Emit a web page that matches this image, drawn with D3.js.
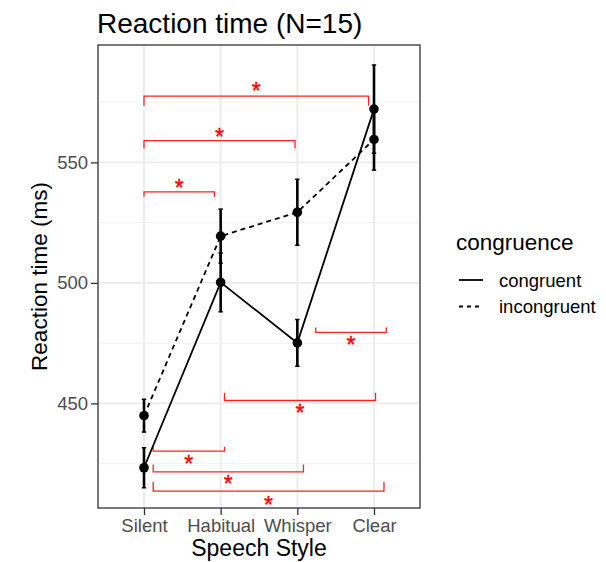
<!DOCTYPE html>
<html><head><meta charset="utf-8">
<script src="https://cdn.jsdelivr.net/npm/d3@7"></script>
<style>body{margin:0;background:#fff}svg{display:block}text{font-family:"Liberation Sans",Arial,sans-serif}</style>
</head><body>
<svg id="c" width="606" height="562"></svg>
<script>
const categories = ["Silent","Habitual","Whisper","Clear"];
const congruentMean = [423.3, 500.2, 475.1, 572.1];
const congruentErr  = [8.3, 12.2, 9.7, 18.3];
const incongruentMean = [444.9, 519.4, 529.3, 559.5];
const incongruentErr  = [6.8, 11.2, 13.7, 12.7];
const yTicks = [450, 500, 550];
const yMinor = [425, 475, 525, 575];
// significance brackets (x in category index units, y in ms)
const bracketX1 = [0, 0, 0, 2.24, 1.05, 0.12, 0.12, 0.12];
const bracketX2 = [2.93, 1.97, 0.92, 3.16, 3.02, 1.05, 2.08, 3.13];
const bracketY  = [577.5, 559.0, 537.8, 479.5, 451.2, 430.2, 421.6, 413.6];
const bracketTip= [573.5, 555.8, 535.7, 481.5, 454.4, 432.0, 424.7, 417.5];
const starY     = [581.4, 562.3, 541.3, 476.3, 447.9, 426.9, 418.5, 409.9];

const svg = d3.select("#c");
const L = 98, R = 420, T = 45, B = 508;
const x = d3.scalePoint().domain(categories).range([L, R]).padding(0.6);
const xi = i => x(categories[0]) + i * x.step();
const y = d3.scaleLinear().domain([406.6, 598.7]).range([B, T]);

// gridlines
const g = svg.append("g");
g.selectAll(".mn").data(yMinor).join("line").attr("x1", L).attr("x2", R)
  .attr("y1", d => y(d)).attr("y2", d => y(d)).attr("stroke", "#f0f0f0").attr("stroke-width", 1);
g.selectAll(".mj").data(yTicks).join("line").attr("x1", L).attr("x2", R)
  .attr("y1", d => y(d)).attr("y2", d => y(d)).attr("stroke", "#ebebeb").attr("stroke-width", 1.8);
g.selectAll(".vx").data(categories).join("line").attr("x1", d => x(d)).attr("x2", d => x(d))
  .attr("y1", T).attr("y2", B).attr("stroke", "#ebebeb").attr("stroke-width", 1.8);

// significance brackets
const br = svg.append("g").attr("stroke", "#ff2020").attr("stroke-width", 1.3).attr("fill", "none");
bracketY.forEach((by, i) => {
  const p = d3.path();
  p.moveTo(xi(bracketX1[i]), y(bracketTip[i]));
  p.lineTo(xi(bracketX1[i]), y(by));
  p.lineTo(xi(bracketX2[i]), y(by));
  p.lineTo(xi(bracketX2[i]), y(bracketTip[i]));
  br.append("path").attr("d", p.toString());
});
svg.append("g").selectAll("text").data(starY).join("text")
  .attr("x", (d, i) => xi((bracketX1[i] + bracketX2[i]) / 2))
  .attr("y", d => y(d) + 12.5)
  .attr("text-anchor", "middle").attr("fill", "#ff0000").attr("font-size", 23)
  .attr("stroke", "#ff0000").attr("stroke-width", 0.4).text("*");

// lines
const series = [
  {mean: incongruentMean, err: incongruentErr, dash: "5,4"},
  {mean: congruentMean, err: congruentErr, dash: null}
];
const line = d3.line().x((d, i) => x(categories[i])).y(d => y(d));
series.forEach(s => {
  svg.append("path").attr("d", line(s.mean)).attr("fill", "none").attr("stroke", "#000")
    .attr("stroke-width", 1.8).attr("stroke-dasharray", s.dash);
});
series.forEach(s => {
  const eg = svg.append("g").attr("stroke", "#000");
  s.mean.forEach((m, i) => {
    const cx = x(categories[i]);
    eg.append("line").attr("x1", cx).attr("x2", cx).attr("y1", y(m - s.err[i])).attr("y2", y(m + s.err[i])).attr("stroke-width", 2.6);
    [m - s.err[i], m + s.err[i]].forEach(v => eg.append("line").attr("x1", cx - 2.2).attr("x2", cx + 2.2).attr("y1", y(v)).attr("y2", y(v)).attr("stroke-width", 1.5));
  });
  svg.append("g").selectAll("circle").data(s.mean).join("circle")
    .attr("cx", (d, i) => x(categories[i])).attr("cy", d => y(d)).attr("r", 4.8).attr("fill", "#000");
});

// panel border
svg.append("rect").attr("x", L).attr("y", T).attr("width", R - L).attr("height", B - T)
  .attr("fill", "none").attr("stroke", "#333").attr("stroke-width", 1.3);

// axes
const ya = svg.append("g").attr("transform", `translate(${L},0)`)
  .call(d3.axisLeft(y).tickValues(yTicks).tickSize(7).tickPadding(3));
const xa = svg.append("g").attr("transform", `translate(0,${B})`)
  .call(d3.axisBottom(x).tickSize(7).tickPadding(4));
[ya, xa].forEach(a => {
  a.select(".domain").remove();
  a.selectAll(".tick line").attr("stroke", "#333").attr("stroke-width", 1.3);
  a.selectAll(".tick text").attr("fill", "#4d4d4d").attr("font-size", 18.5)
    .attr("font-family", '"Liberation Sans",Arial,sans-serif');
});

// titles
svg.append("text").attr("x", 97).attr("y", 33).attr("font-size", 28).attr("fill", "#000").text("Reaction time (N=15)");
svg.append("text").attr("x", (L + R) / 2).attr("y", 556).attr("text-anchor", "middle").attr("font-size", 23).text("Speech Style");
svg.append("text").attr("transform", `translate(47,${(T + B) / 2}) rotate(-90)`).attr("text-anchor", "middle").attr("font-size", 22.5).text("Reaction time (ms)");

// legend
const lg = svg.append("g");
lg.append("text").attr("x", 456).attr("y", 250).attr("font-size", 22.5).text("congruence");
const keys = [{label: "congruent", dash: null}, {label: "incongruent", dash: "4,4"}];
keys.forEach((k, i) => {
  const ly = 280 + i * 26.5;
  lg.append("line").attr("x1", 459).attr("x2", 483).attr("y1", ly).attr("y2", ly)
    .attr("stroke", "#000").attr("stroke-width", 1.8).attr("stroke-dasharray", k.dash);
  lg.append("text").attr("x", 499).attr("y", ly + 6.5).attr("font-size", 18.5).text(k.label);
});
</script>
</body></html>
